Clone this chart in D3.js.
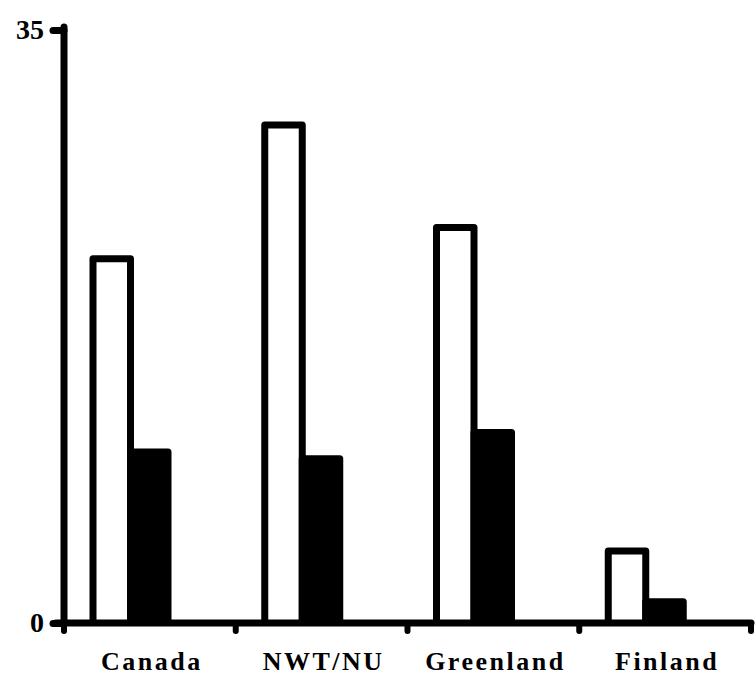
<!DOCTYPE html>
<html lang="en">
<head>
<meta charset="utf-8">
<script src="https://cdn.jsdelivr.net/npm/d3@7"></script>
<style>
    body { margin: 0; background: #fff; }
    text { font-family: "Liberation Serif", "Times New Roman", serif; font-weight: bold; fill: #000; }
</style>
</head>
<body>
<div id="chart"></div>
<script>
    const categories = ['Canada', 'NWT/NU', 'Greenland', 'Finland'];
    const series = ['open', 'filled'];
    const openValues = [21.5, 29.4, 23.35, 4.25];
    const filledValues = [10.1, 9.7, 11.25, 1.25];
    const yTicks = [0, 35];

    const width = 756, height = 677;
    const lw = 7;

    const svg = d3.select('#chart').append('svg')
        .attr('width', width).attr('height', height);

    const x0 = d3.scaleBand().domain(categories).range([64, 751]);
    const x1 = d3.scaleBand().domain(series).range([29, 29 + 75]);
    const y = d3.scaleLinear().domain([0, 35]).range([623, 30]);

    const rows = categories.map((c, i) => ({cat: c, open: openValues[i], filled: filledValues[i]}));

    // bars
    const groups = svg.append('g').selectAll('g')
        .data(rows).enter().append('g')
        .attr('transform', d => `translate(${x0(d.cat)},0)`);

    groups.selectAll('path')
        .data(d => series.map(s => ({s, v: d[s]})))
        .enter().append('path')
        .attr('d', d => {
            const xl = x1(d.s), xr = xl + x1.bandwidth();
            return `M${xl},${y(0)}V${y(d.v)}H${xr}V${y(0)}`;
        })
        .attr('fill', d => d.s === 'filled' ? '#000' : 'none')
        .attr('stroke', '#000')
        .attr('stroke-width', lw)
        .attr('stroke-linejoin', 'round');

    // y axis
    const yAxis = svg.append('g')
        .attr('transform', `translate(64,0)`)
        .call(d3.axisLeft(y).tickValues(yTicks).tickSize(11).tickPadding(9));
    yAxis.select('.domain').remove();
    yAxis.append('line')
        .attr('y1', y(35) - 3).attr('y2', y(0))
        .attr('stroke', '#000').attr('stroke-width', lw).attr('stroke-linecap', 'round');
    yAxis.selectAll('.tick line')
        .attr('stroke-width', lw).attr('stroke-linecap', 'round');
    yAxis.selectAll('.tick text')
        .attr('font-size', 28).attr('dy', '0.3em');

    // x axis
    const xAxis = svg.append('g')
        .attr('transform', `translate(0,${y(0)})`);
    xAxis.append('line')
        .attr('x1', 56).attr('x2', 751)
        .attr('stroke', '#000').attr('stroke-width', lw).attr('stroke-linecap', 'round');
    const bounds = categories.map(c => x0(c)).concat([x0.range()[1]]);
    xAxis.selectAll('line.tk')
        .data(bounds).enter().append('line')
        .attr('class', 'tk')
        .attr('x1', d => d).attr('x2', d => d)
        .attr('y1', 0).attr('y2', 8)
        .attr('stroke', '#000').attr('stroke-width', lw - 1).attr('stroke-linecap', 'round');
    xAxis.selectAll('text')
        .data(categories).enter().append('text')
        .attr('x', d => x0(d) + x0.bandwidth() / 2 + 2)
        .attr('y', 47)
        .attr('text-anchor', 'middle')
        .attr('font-size', 26)
        .attr('letter-spacing', 2.5)
        .text(d => d);
</script>
</body>
</html>
